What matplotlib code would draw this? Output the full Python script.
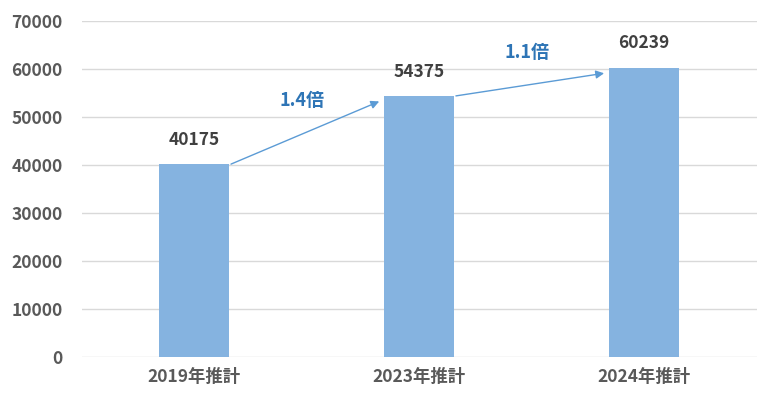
import numpy as np
import matplotlib
matplotlib.use("Agg")
import matplotlib.pyplot as plt

plt.rcParams['font.family'] = ['Noto Sans CJK JP', 'DejaVu Sans']

categories = ['2019年推計', '2023年推計', '2024年推計']
values = [40175, 54375, 60239]
ratio_labels = ['1.4倍', '1.1倍']

fig = plt.figure(figsize=(7.8, 4.09), dpi=100)
ax = fig.add_axes([0.105, 0.127, 0.865, 0.822])

x = np.arange(len(categories))
ax.bar(x, values, width=0.31, color='#85B3E0', zorder=2)

ax.set_xlim(-0.5, 2.5)
ax.set_ylim(0, 70000)
ax.set_yticks(np.arange(0, 70001, 10000))
ax.set_xticks(x)
ax.set_xticklabels(categories)
ax.grid(axis='y', color='#D9D9D9', linewidth=1, zorder=0)
for s in ax.spines.values():
    s.set_visible(False)
ax.tick_params(length=0, labelsize=12.5, labelcolor='#595959')
ax.tick_params(axis='y', pad=14)
ax.tick_params(axis='x', pad=8)
for lab in ax.get_xticklabels() + ax.get_yticklabels():
    lab.set_fontweight('bold')

# value labels
for xi, v in zip(x, values):
    ax.annotate(str(v), (xi, v), xytext=(0, 11), textcoords='offset points',
                ha='center', va='bottom', fontsize=12.5, fontweight='bold', color='#404040')

# growth arrows between bar tops
for i, lab in enumerate(ratio_labels):
    x0, y0 = x[i] + 0.163, values[i]
    x1, y1 = x[i + 1] - 0.178, values[i + 1] - 1150
    ax.annotate('', xy=(x1, y1), xytext=(x0, y0),
                arrowprops=dict(arrowstyle='-|>', color='#5B9BD5', lw=1,
                                mutation_scale=12, shrinkA=0, shrinkB=0))
    ax.annotate(lab, ((x0 + x1) / 2, (y0 + y1) / 2), xytext=(-2, 23),
                textcoords='offset points', ha='center', va='center',
                fontsize=13, fontweight='bold', color='#2E75B6')

fig.savefig('out.png', dpi=100)
